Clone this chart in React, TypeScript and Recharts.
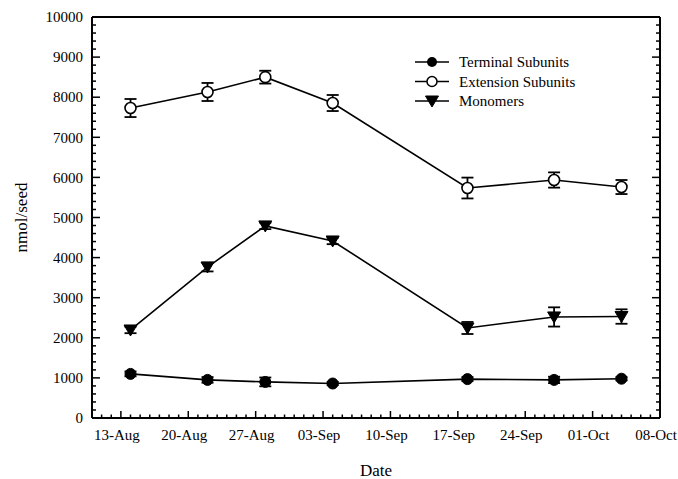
import * as React from 'react'
import { LineChart, Line, XAxis, YAxis, ErrorBar, Label } from 'recharts'

// sampling dates and measured values (nmol/seed)
const sampleDates = [
	'1999-08-14',
	'1999-08-22',
	'1999-08-28',
	'1999-09-04',
	'1999-09-18',
	'1999-09-27',
	'1999-10-04',
]
const terminal = [1100, 950, 900, 860, 970, 950, 980]
const terminalErr = [60, 70, 110, 40, 50, 80, 40]
const extension = [7730, 8130, 8500, 7855, 5735, 5935, 5760]
const extensionErr = [225, 225, 160, 200, 260, 190, 175]
const monomers = [2195, 3765, 4790, 4415, 2245, 2520, 2530]
const monomersErr = [80, 110, 80, 80, 150, 240, 180]

const seriesNames = ['Terminal Subunits', 'Extension Subunits', 'Monomers']

const axisStart = '1999-08-10'
const axisEnd = '1999-10-08'
const firstMajor = '1999-08-13'

const DAY = 86400000
const MONTHS = ['Jan', 'Feb', 'Mar', 'Apr', 'May', 'Jun', 'Jul', 'Aug', 'Sep', 'Oct', 'Nov', 'Dec']
const toMs = (s: string) => Date.parse(s + 'T00:00:00Z')
const fmtDate = (ms: number) => {
	const d = new Date(ms)
	const day = String(d.getUTCDate()).padStart(2, '0')
	return `${day}-${MONTHS[d.getUTCMonth()]}`
}

const startMs = toMs(axisStart)
const endMs = toMs(axisEnd)
const majorMs = toMs(firstMajor)
const dayTicks: number[] = []
for (let t = startMs; t <= endMs; t += DAY) dayTicks.push(t)
const isMajorDay = (t: number) => t >= majorMs && Math.round((t - majorMs) / DAY) % 7 === 0

const yTicks: number[] = []
for (let v = 0; v <= 10000; v += 200) yTicks.push(v)
const isMajorY = (v: number) => v % 1000 === 0

const data = sampleDates.map((d, i) => ({
	t: toMs(d),
	term: terminal[i],
	termErr: terminalErr[i],
	ext: extension[i],
	extErr: extensionErr[i],
	mono: monomers[i],
	monoErr: monomersErr[i],
}))

const FONT = '"Liberation Serif", "Times New Roman", serif'
const TICK_W = 1.5
const AXIS = { stroke: '#000', strokeWidth: 2 }

const BottomTick = (props: any) => {
	const { x, y, payload } = props
	const major = isMajorDay(payload.value)
	return (
		<g>
			<line x1={x} y1={y} x2={x} y2={y - (major ? 7 : 3.5)} stroke="#000" strokeWidth={TICK_W} />
			{major && (
				<text x={x - 4} y={y + 22} textAnchor="middle" fontFamily={FONT} fontSize={15} fill="#000">
					{fmtDate(payload.value)}
				</text>
			)}
		</g>
	)
}

const TopTick = (props: any) => {
	const { x, y, payload } = props
	const major = isMajorDay(payload.value)
	return <line x1={x} y1={y} x2={x} y2={y + (major ? 7 : 3.5)} stroke="#000" strokeWidth={TICK_W} />
}

const LeftTick = (props: any) => {
	const { x, y, payload } = props
	const major = isMajorY(payload.value)
	return (
		<g>
			<line x1={x} y1={y} x2={x + (major ? 8 : 4)} y2={y} stroke="#000" strokeWidth={TICK_W} />
			{major && (
				<text x={x - 9} y={y} dy="0.35em" textAnchor="end" fontFamily={FONT} fontSize={15} fill="#000">
					{payload.value}
				</text>
			)}
		</g>
	)
}

const RightTick = (props: any) => {
	const { x, y, payload } = props
	const major = isMajorY(payload.value)
	return <line x1={x} y1={y} x2={x - (major ? 8 : 4)} y2={y} stroke="#000" strokeWidth={TICK_W} />
}

const TriDown = (props: any) => {
	const { cx, cy } = props
	if (cx == null || cy == null) return null
	return (
		<path
			d={`M${cx - 6.5},${cy - 5} L${cx + 6.5},${cy - 5} L${cx},${cy + 6} Z`}
			fill="#000"
			stroke="#000"
			strokeWidth={1}
		/>
	)
}

const LegendMarker = ({ kind, cx, cy }: { kind: number; cx: number; cy: number }) => {
	if (kind === 0) return <circle cx={cx} cy={cy} r={5} fill="#000" />
	if (kind === 1) return <circle cx={cx} cy={cy} r={5} fill="#fff" stroke="#000" strokeWidth={1.5} />
	return <TriDown cx={cx} cy={cy} />
}

// legend drawn straight into the chart svg
const ChartLegend = () => (
	<g>
		{seriesNames.map((name, i) => {
			const cy = 62 + i * 19.5
			return (
				<g key={name}>
					<line x1={415} y1={cy} x2={449} y2={cy} stroke="#000" strokeWidth={1.6} />
					<LegendMarker kind={i} cx={432} cy={cy} />
					<text x={459} y={cy} dy="0.35em" fontFamily={FONT} fontSize={15} fill="#000">
						{name}
					</text>
				</g>
			)
		})}
	</g>
)

export default function App() {
	return (
		<div style={{ position: 'absolute', left: 0, top: 0, background: '#fff' }}>
			<LineChart
				width={678}
				height={479}
				data={data}
				margin={{ top: 0, right: 0, bottom: 0, left: 0 }}
			>
				<XAxis
					dataKey="t"
					type="number"
					domain={[startMs, endMs]}
					allowDataOverflow
					ticks={dayTicks}
					interval={0}
					height={61}
					tickSize={0}
					tickMargin={0}
					tickLine={false}
					axisLine={AXIS}
					tick={<BottomTick />}
				>
					<Label
						value="Date"
						position="insideBottom"
						offset={3}
						style={{ fontFamily: FONT, fontSize: 17, fill: '#000' }}
					/>
				</XAxis>
				<XAxis
					xAxisId="top"
					orientation="top"
					type="number"
					domain={[startMs, endMs]}
					allowDataOverflow
					ticks={dayTicks}
					interval={0}
					height={17}
					tickSize={0}
					tickMargin={0}
					tickLine={false}
					axisLine={AXIS}
					tick={<TopTick />}
				/>
				<YAxis
					type="number"
					domain={[0, 10000]}
					allowDataOverflow
					ticks={yTicks}
					interval={0}
					width={92}
					tickSize={0}
					tickMargin={0}
					tickLine={false}
					axisLine={AXIS}
					tick={<LeftTick />}
				>
					<Label
						value="nmol/seed"
						position="insideLeft"
						angle={-90}
						dx={16}
						style={{ fontFamily: FONT, fontSize: 17, fill: '#000', textAnchor: 'middle' }}
					/>
				</YAxis>
				<YAxis
					yAxisId="right"
					orientation="right"
					type="number"
					domain={[0, 10000]}
					allowDataOverflow
					ticks={yTicks}
					interval={0}
					width={18}
					tickSize={0}
					tickMargin={0}
					tickLine={false}
					axisLine={AXIS}
					tick={<RightTick />}
				/>
				<Line
					dataKey="term"
					name={seriesNames[0]}
					stroke="#000"
					strokeWidth={1.6}
					isAnimationActive={false}
					dot={{ r: 5.5, fill: '#000', stroke: '#000', strokeWidth: 1 }}
					activeDot={false}
				>
					<ErrorBar dataKey="termErr" direction="y" width={6} stroke="#000" strokeWidth={1.8} isAnimationActive={false} />
				</Line>
				<Line
					dataKey="ext"
					name={seriesNames[1]}
					stroke="#000"
					strokeWidth={1.6}
					isAnimationActive={false}
					dot={{ r: 5.5, fill: '#fff', stroke: '#000', strokeWidth: 1.6 }}
					activeDot={false}
				>
					<ErrorBar dataKey="extErr" direction="y" width={6} stroke="#000" strokeWidth={1.8} isAnimationActive={false} />
				</Line>
				<Line
					dataKey="mono"
					name={seriesNames[2]}
					stroke="#000"
					strokeWidth={1.6}
					isAnimationActive={false}
					dot={<TriDown />}
					activeDot={false}
				>
					<ErrorBar dataKey="monoErr" direction="y" width={6} stroke="#000" strokeWidth={1.8} isAnimationActive={false} />
				</Line>
				<ChartLegend />
			</LineChart>
		</div>
	)
}
